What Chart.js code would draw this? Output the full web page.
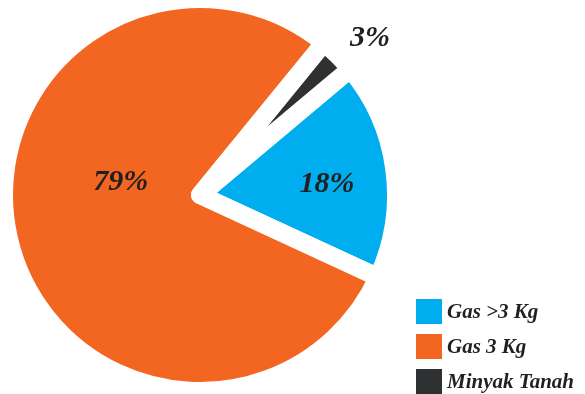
<!DOCTYPE html>
<html>
<head>
<meta charset="utf-8">
<script src="https://cdn.jsdelivr.net/npm/chart.js@4/dist/chart.umd.min.js"></script>
<style>
  html, body { margin: 0; padding: 0; background: #fff; overflow: hidden; }
  canvas { display: block; }
</style>
</head>
<body>
<canvas id="pieChart" width="585" height="394"></canvas>
<script>
const labels = ['Gas >3 Kg', 'Gas 3 Kg', 'Minyak Tanah'];
const values = [18, 79, 3];
const colors = ['#00adee', '#f36621', '#2f3031'];

const textColor = '#231f20';
const fontFamily = "'Liberation Serif', 'DejaVu Serif', serif";

// where each percentage goes: fraction of the radius and a small turn (degrees) off the slice middle
const labelPlace = [
  { r: 0.65, turn: 2.7 },
  { r: 0.41, turn: 22 },
  { r: 1.18, turn: 2.7 },
];

// percentages written on / beside the slices
const percentLabels = {
  id: 'percentLabels',
  afterDatasetsDraw(chart) {
    const ctx = chart.ctx;
    const arcs = chart.getDatasetMeta(0).data;
    ctx.save();
    ctx.font = `italic bold 30px ${fontFamily}`;
    ctx.fillStyle = textColor;
    ctx.textAlign = 'center';
    ctx.textBaseline = 'middle';
    arcs.forEach((arc, i) => {
      const p = arc.getProps(['x', 'y', 'startAngle', 'endAngle', 'outerRadius'], true);
      const a = (p.startAngle + p.endAngle) / 2 + labelPlace[i].turn * Math.PI / 180;
      const r = p.outerRadius * labelPlace[i].r;
      ctx.fillText(values[i] + '%', p.x + Math.cos(a) * r, p.y + Math.sin(a) * r);
    });
    ctx.restore();
  },
};

// square swatches stacked in the lower right corner
const cornerLegend = {
  id: 'cornerLegend',
  afterDraw(chart) {
    const ctx = chart.ctx;
    const left = 416, top = 299, box = 26, boxH = 25, step = 35;
    ctx.save();
    ctx.font = `italic bold 21px ${fontFamily}`;
    ctx.textBaseline = 'middle';
    labels.forEach((label, i) => {
      const y = top + i * step;
      ctx.fillStyle = colors[i];
      ctx.fillRect(left, y, box, boxH);
      ctx.fillStyle = textColor;
      ctx.fillText(label, left + box + 5, y + boxH / 2 + 1);
    });
    ctx.restore();
  },
};

new Chart(document.getElementById('pieChart'), {
  type: 'pie',
  data: {
    labels: labels,
    datasets: [{
      data: values,
      backgroundColor: colors,
      borderColor: '#ffffff',
      borderWidth: 18,
      borderJoinStyle: 'round',
      radius: 196,
    }],
  },
  options: {
    responsive: false,
    animation: false,
    rotation: 50,
    layout: { padding: { left: 0, right: 185, top: 0, bottom: 4 } },
    plugins: {
      legend: { display: false },
      tooltip: { enabled: false },
    },
  },
  plugins: [percentLabels, cornerLegend],
});
</script>
</body>
</html>
